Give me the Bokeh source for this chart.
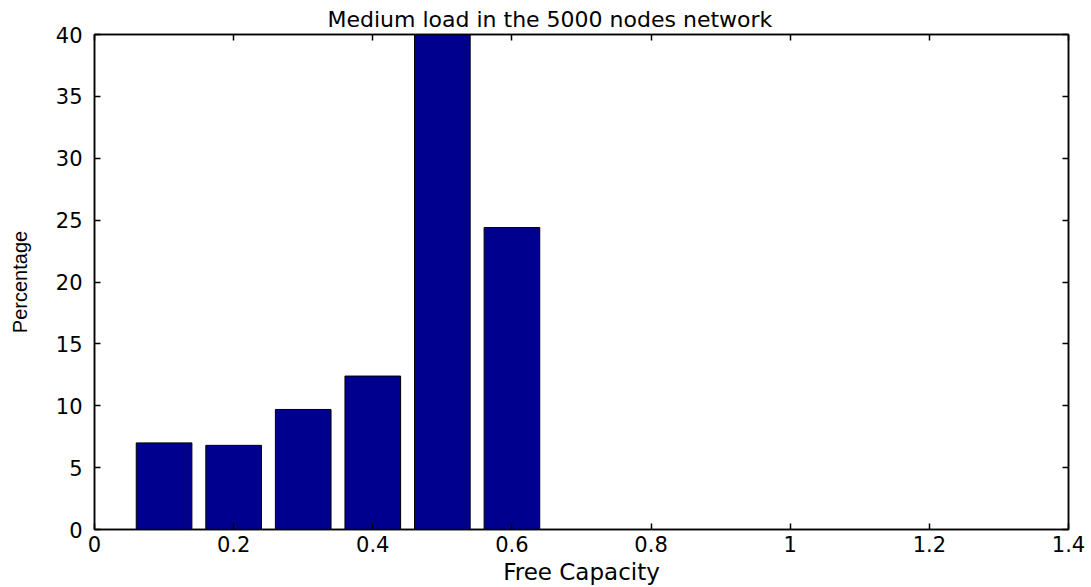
from bokeh.plotting import figure
from bokeh.models import ColumnDataSource, LinearAxis, FixedTicker, Range1d
from bokeh.embed import file_html
from bokeh.resources import INLINE

# Histogram of free capacity (bin centres) and share of nodes in each bin
capacity = [0.1, 0.2, 0.3, 0.4, 0.5, 0.6]
percentage = [7.0, 6.8, 9.7, 12.4, 40.6, 24.4]

x_ticks = [0, 0.2, 0.4, 0.6, 0.8, 1.0, 1.2, 1.4]
x_tick_labels = ["0", "0.2", "0.4", "0.6", "0.8", "1", "1.2", "1.4"]
y_ticks = [0, 5, 10, 15, 20, 25, 30, 35, 40]
y_tick_labels = ["0", "5", "10", "15", "20", "25", "30", "35", "40"]

bar_width = 0.08
FONT = "DejaVu Sans"
TICK_SIZE = "21px"

source = ColumnDataSource(dict(x=capacity, top=percentage))

p = figure(
    width=1091, height=587,
    x_range=Range1d(0, 1.4), y_range=Range1d(0, 40),
    output_backend="svg", toolbar_location=None,
    min_border_left=94, min_border_right=23,
    min_border_top=34, min_border_bottom=57,
    title="Medium load in the 5000 nodes network",
)
p.background_fill_color = "white"
p.border_fill_color = "white"
p.outline_line_color = "black"
p.outline_line_width = 1.5
p.grid.visible = False

p.title.align = "left"
p.title.offset = 233
p.title.text_font = FONT
p.title.text_font_size = "22px"
p.title.text_font_style = "normal"
p.title.text_color = "black"
p.title.standoff = 6

p.vbar(x="x", top="top", width=bar_width, bottom=0, source=source,
       fill_color="#00008F", line_color="black", line_width=1)


def style_axis(ax, ticks, labels, show_labels=True):
    ax.ticker = FixedTicker(ticks=ticks)
    ax.major_tick_in = 6
    ax.major_tick_out = 0
    ax.minor_tick_in = 0
    ax.minor_tick_out = 0
    ax.axis_line_color = "black"
    ax.axis_line_width = 1.5
    ax.major_tick_line_color = "black"
    ax.major_tick_line_width = 1.5
    if show_labels:
        ax.major_label_overrides = {t: l for t, l in zip(ticks, labels)}
        ax.major_label_text_font = FONT
        ax.major_label_text_color = "black"
        ax.major_label_text_font_size = TICK_SIZE
    else:
        # tick marks only, as on the opposite side of a boxed frame
        ax.major_label_text_color = None
        ax.major_label_text_font_size = "1px"
        ax.major_label_standoff = 0


style_axis(p.xaxis[0], x_ticks, x_tick_labels)
style_axis(p.yaxis[0], y_ticks, y_tick_labels)
p.xaxis[0].major_label_standoff = 6
p.yaxis[0].major_label_standoff = 12

p.xaxis[0].axis_label = "Free Capacity"
p.xaxis[0].axis_label_text_font = FONT
p.xaxis[0].axis_label_text_font_size = "23px"
p.xaxis[0].axis_label_text_font_style = "normal"
p.xaxis[0].axis_label_text_color = "black"
p.xaxis[0].axis_label_standoff = 4

p.yaxis[0].axis_label = "Percentage"
p.yaxis[0].axis_label_text_font = "Liberation Sans"
p.yaxis[0].axis_label_text_font_size = "20px"
p.yaxis[0].axis_label_text_font_style = "normal"
p.yaxis[0].axis_label_text_color = "black"
p.yaxis[0].axis_label_standoff = 22

top_axis = LinearAxis()
style_axis(top_axis, x_ticks, x_tick_labels, show_labels=False)
p.add_layout(top_axis, "above")

right_axis = LinearAxis()
style_axis(right_axis, y_ticks, y_tick_labels, show_labels=False)
p.add_layout(right_axis, "right")

open("out.html", "w").write(file_html(p, INLINE))
